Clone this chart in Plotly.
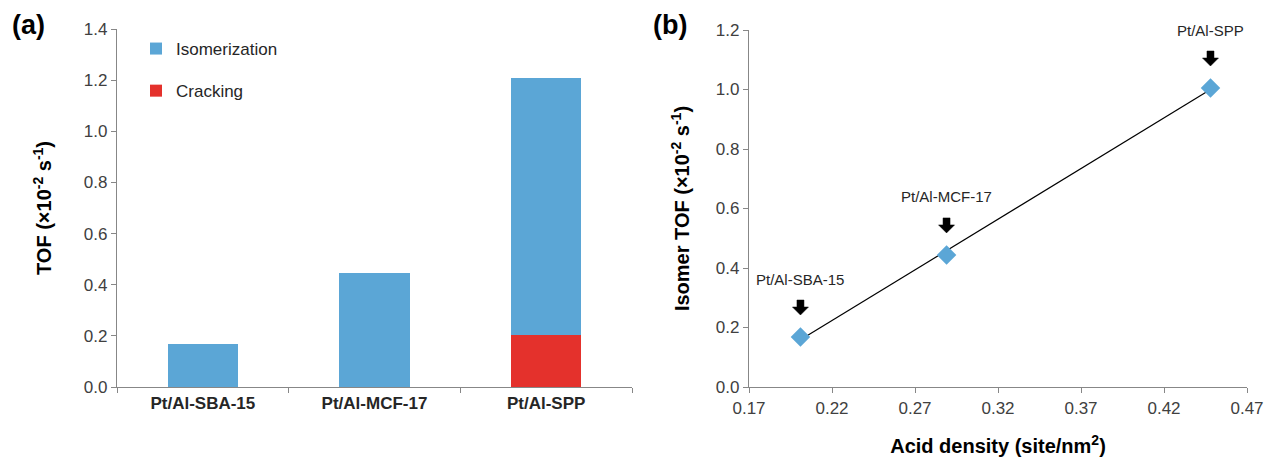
import numpy as np
import plotly.graph_objects as go

# ---- data ----
catalysts = ["Pt/Al-SBA-15", "Pt/Al-MCF-17", "Pt/Al-SPP"]
isomerization = [0.17, 0.445, 1.005]
cracking = [None, None, 0.205]

acid_density = [0.201, 0.289, 0.448]
isomer_tof = [0.168, 0.444, 1.005]
point_labels = ["Pt/Al-SBA-15", "Pt/Al-MCF-17", "Pt/Al-SPP"]

BLUE = "#5BA6D6"
RED = "#E4312C"
AXC = "#878787"
TXT = "#404040"
FONT = "Liberation Sans, Arial, sans-serif"
W, H = 1267, 460

# block-arrow glyph (pixel offsets relative to each data point)
ARROW_PATH = "M 0,22 L 8,30 L 3.5,30 L 3.5,37 L -3.5,37 L -3.5,30 L -8,30 Z"

fig = go.Figure()

fig.add_trace(go.Bar(x=catalysts, y=cracking, name="Cracking", marker=dict(color=RED, line=dict(width=0)),
                     legendgroup="c", legendrank=2, xaxis="x", yaxis="y"))
fig.add_trace(go.Bar(x=catalysts, y=isomerization, name="Isomerization", marker=dict(color=BLUE, line=dict(width=0)),
                     legendgroup="i", legendrank=1, xaxis="x", yaxis="y"))

# trendline from linear fit of the data
k, b = np.polyfit(acid_density, isomer_tof, 1)
xs = [min(acid_density), max(acid_density)]
fig.add_trace(go.Scatter(x=xs, y=[k * v + b for v in xs], mode="lines", line=dict(color="black", width=1.2),
                         showlegend=False, xaxis="x2", yaxis="y2", hoverinfo="skip"))
fig.add_trace(go.Scatter(x=acid_density, y=isomer_tof, mode="markers",
                         marker=dict(symbol="diamond", size=15, color=BLUE, line=dict(width=0)),
                         showlegend=False, xaxis="x2", yaxis="y2"))

annotations = []
shapes = []
for xv, yv, lab in zip(acid_density, isomer_tof, point_labels):
    annotations.append(dict(x=xv, y=yv, xref="x2", yref="y2", text=lab, showarrow=False, yshift=58,
                            font=dict(family=FONT, size=15, color="#262626")))
    shapes.append(dict(type="path", xref="x2", yref="y2", xsizemode="pixel", ysizemode="pixel",
                       xanchor=xv, yanchor=yv, path=ARROW_PATH, fillcolor="black",
                       line=dict(color="black", width=0.5)))

annotations.append(dict(x=10 / W, y=1 - 8 / H, xref="paper", yref="paper", text="<b>(a)</b>", showarrow=False,
                        xanchor="left", yanchor="top", font=dict(family=FONT, size=27, color="black")))
annotations.append(dict(x=651 / W, y=1 - 8 / H, xref="paper", yref="paper", text="<b>(b)</b>", showarrow=False,
                        xanchor="left", yanchor="top", font=dict(family=FONT, size=27, color="black")))

ytop = 1 - 29 / H
ybot = 1 - 387 / H

axis_common = dict(showline=True, linecolor=AXC, linewidth=1.3, ticks="outside", tickcolor=AXC, ticklen=5,
                   showgrid=False, zeroline=False, automargin=False,
                   tickfont=dict(family=FONT, size=17, color=TXT))
title_font = dict(family=FONT, size=20, color="black", weight="bold")

fig.update_layout(
    width=W, height=H,
    margin=dict(l=0, r=0, t=0, b=0),
    paper_bgcolor="white", plot_bgcolor="white",
    barmode="stack", bargap=0.59,
    font=dict(family=FONT, color=TXT),
    showlegend=True,
    legend=dict(x=136 / W, y=1 - 31 / H, xanchor="left", yanchor="top", traceorder="grouped",
                tracegroupgap=17, font=dict(family=FONT, size=17, color="#262626"),
                bgcolor="rgba(0,0,0,0)", itemwidth=30),
    xaxis=dict(domain=[117 / W, 632 / W], anchor="y", tickson="boundaries",
               **{**axis_common, "tickfont": dict(family=FONT, size=17, color="#262626", weight="bold")}),
    yaxis=dict(domain=[ybot, ytop], anchor="x", range=[0, 1.4], dtick=0.2, tickformat=".1f",
               title=dict(text="TOF (×10<sup>-2</sup> s<sup>-1</sup>)", standoff=26, font=title_font),
               **axis_common),
    xaxis2=dict(domain=[749 / W, 1247 / W], anchor="y2", range=[0.17, 0.47], dtick=0.05, tick0=0.17,
                tickformat=".2f",
                title=dict(text="Acid density (site/nm<sup>2</sup>)", standoff=22, font=title_font),
                **axis_common),
    yaxis2=dict(domain=[ybot, 1 - 30 / H], anchor="x2", range=[0, 1.2], dtick=0.2, tickformat=".1f",
                title=dict(text="Isomer TOF (×10<sup>-2</sup> s<sup>-1</sup>)", standoff=20, font=title_font),
                **axis_common),
    annotations=annotations,
    shapes=shapes,
)

fig.write_html("out.html", config={"displayModeBar": False},
               post_script="document.body.style.margin='0';document.body.style.overflow='hidden';")
